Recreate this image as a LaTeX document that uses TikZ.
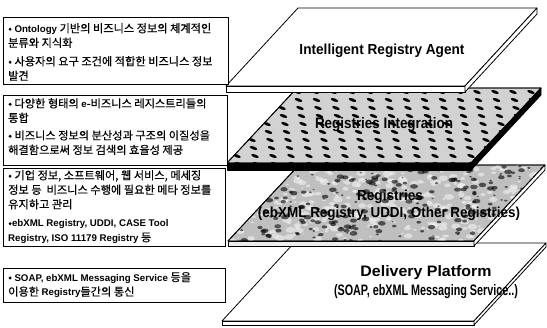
\documentclass[tikz,border=0pt]{standalone}
\usepackage{fontspec}
\setmainfont{Liberation Sans}
\newfontfamily\kr[FakeBold=0.4]{Noto Sans CJK KR}
\usetikzlibrary{calc}
% bold Latin words inside the Korean notes
\newcommand\lb[1]{{\rmfamily\bfseries\fontsize{9.7}{14.5}\selectfont #1}}

\begin{document}
\begin{tikzpicture}[x=1pt,y=-1pt,
  tbox/.style={draw=black, line width=0.8pt, fill=white, inner sep=0pt, anchor=north west},
  btext/.style={anchor=north west, align=left, inner sep=0pt,
                font=\kr\fontsize{11.2}{14.5}\selectfont},
  edge/.style={draw=black, line width=0.8pt, line join=round},
  plabel/.style={inner sep=0pt, font=\rmfamily\bfseries}]
\useasboundingbox (0,0) rectangle (547,328);

% ---------- plate corners (a = top left, b = top right, c = bottom right, d = bottom left)
\coordinate (p1a) at (298,8);   \coordinate (p1b) at (537,8);
\coordinate (p1c) at (465,86);  \coordinate (p1d) at (226,86);
\coordinate (p2a) at (297,88);  \coordinate (p2b) at (541,88);
\coordinate (p2c) at (471,163); \coordinate (p2d) at (227,163);
\coordinate (p3a) at (299,165); \coordinate (p3b) at (545,165);
\coordinate (p3c) at (474,241); \coordinate (p3d) at (228,241);
\coordinate (p4a) at (294,243); \coordinate (p4b) at (546,243);
\coordinate (p4c) at (474,321); \coordinate (p4d) at (222,321);

% ---------- plate 4: delivery platform
\draw[edge, fill=white] (p4a) -- (p4b) -- (p4c) -- (p4d) -- cycle;
\draw[edge, fill=white] (p4d) -- (p4c) -- ($(p4c)+(0,4)$) -- ($(p4d)+(0,4)$) -- cycle;
\draw[edge, fill=white] (p4c) -- (p4b) -- ($(p4b)+(0,4)$) -- ($(p4c)+(0,4)$) -- cycle;

% ---------- plate 3: registries (mottled surface)
\draw[edge, fill=gray!50] (p3a) -- (p3b) -- (p3c) -- (p3d) -- cycle;
\begin{scope}
  \clip (p3a) -- (p3b) -- (p3c) -- (p3d) -- cycle;
  \pgfmathsetseed{11}
  \foreach \i in {1,...,420} {
    \pgfmathsetmacro\px{228+rnd*318}
    \pgfmathsetmacro\py{165+rnd*76}
    \pgfmathsetmacro\pr{1+rnd*4}
    \fill[gray!10, opacity=0.6] (\px,\py) ellipse [x radius=\pr, y radius=0.6*\pr];
  }
  \foreach \i in {1,...,320} {
    \pgfmathsetmacro\px{228+rnd*318}
    \pgfmathsetmacro\py{165+rnd*76}
    \pgfmathsetmacro\pr{1+rnd*3}
    \fill[black, opacity=0.6] (\px,\py) ellipse [x radius=\pr, y radius=0.6*\pr];
  }
\end{scope}
\draw[edge] (p3a) -- (p3b) -- (p3c) -- (p3d) -- cycle;
\draw[edge, fill=gray!15] (p3d) -- (p3c) -- ($(p3c)+(0,5)$) -- ($(p3d)+(0,5)$) -- cycle;
\draw[edge, fill=white] (p3c) -- (p3b) -- ($(p3b)+(0,5)$) -- ($(p3c)+(0,5)$) -- cycle;

% ---------- plate 2: registries integration (dotted surface)
\draw[edge, fill=gray!35] (p2a) -- (p2b) -- (p2c) -- (p2d) -- cycle;
\begin{scope}
  \clip (p2a) -- (p2b) -- (p2c) -- (p2d) -- cycle;
  \foreach \r in {0,...,9} {
    \foreach \c in {-2,...,16} {
      \pgfmathsetmacro\px{297 + \c*18 + mod(\r,2)*9 - \r*7.5}
      \pgfmathsetmacro\py{92 + \r*8}
      \fill[black] (\px,\py) ellipse [x radius=4, y radius=1.5, rotate=-20];
    }
  }
\end{scope}
\draw[edge] (p2a) -- (p2b) -- (p2c) -- (p2d) -- cycle;
\draw[edge, fill=black] (p2d) -- (p2c) -- ($(p2c)+(0,7)$) -- ($(p2d)+(0,7)$) -- cycle;
\draw[edge, fill=black] (p2c) -- (p2b) -- ($(p2b)+(0,7)$) -- ($(p2c)+(0,7)$) -- cycle;

% ---------- plate 1: intelligent registry agent
\draw[edge, fill=white] (p1a) -- (p1b) -- (p1c) -- (p1d) -- cycle;
\draw[edge, fill=white] (p1d) -- (p1c) -- ($(p1c)+(0,6)$) -- ($(p1d)+(0,6)$) -- cycle;
\draw[edge, fill=white] (p1c) -- (p1b) -- ($(p1b)+(0,6)$) -- ($(p1c)+(0,6)$) -- cycle;

% ---------- plate labels
\node[plabel] (l1) at (382,51) {\resizebox{165pt}{10.5pt}{Intelligent Registry Agent}};
\node[plabel] (l2) at (384,125) {\resizebox{138pt}{11pt}{Registries Integration}};
\node[plabel] (l3a) at (390,197) {\resizebox{66pt}{10.5pt}{Registries}};
\node[plabel] (l3b) at (389,214) {\resizebox{262pt}{10.5pt}{(ebXML Registry, UDDI, Other Registries)}};
\node[plabel] (l4a) at (426,273) {\resizebox{131pt}{11pt}{Delivery Platform}};
\node[plabel] (l4b) at (426,292) {\resizebox{184pt}{11pt}{(SOAP, ebXML Messaging Service..)}};

% ---------- description boxes
\node[tbox, minimum width=225pt, minimum height=67pt] (box1) at (3,17) {};
\node[tbox, minimum width=224pt, minimum height=70pt] (box2) at (3,95) {};
\node[tbox, minimum width=222pt, minimum height=78pt] (box3) at (3,168) {};
\node[tbox, minimum width=222pt, minimum height=34pt] (box4) at (3,268) {};

\node[btext] (t1) at (8,23) {• \lb{Ontology} 기반의 비즈니스 정보의 체계적인\\
  분류와 지식화\\[4pt]
  • 사용자의 요구 조건에 적합한 비즈니스 정보\\
  발견};
\node[btext] (t2) at (8,98) {• 다양한 형태의 \lb{e}-비즈니스 레지스트리들의\\
  통합\\[3pt]
  • 비즈니스 정보의 분산성과 구조의 이질성을\\
  해결함으로써 정보 검색의 효율성 제공};
\node[btext] (t3) at (8,170) {• 기업 정보, 소프트웨어, 웹 서비스, 메세징\\
  정보 등\ \ 비즈니스 수행에 필요한 메타 정보를\\
  유지하고 관리\\[4pt]
  •\lb{ebXML Registry, UDDI, CASE Tool}\\
  \lb{Registry, ISO 11179 Registry} 등};
\node[btext] (t4) at (8,272) {• \lb{SOAP, ebXML Messaging Service} 등을\\
  이용한 \lb{Registry}들간의 통신};
\end{tikzpicture}
\end{document}
